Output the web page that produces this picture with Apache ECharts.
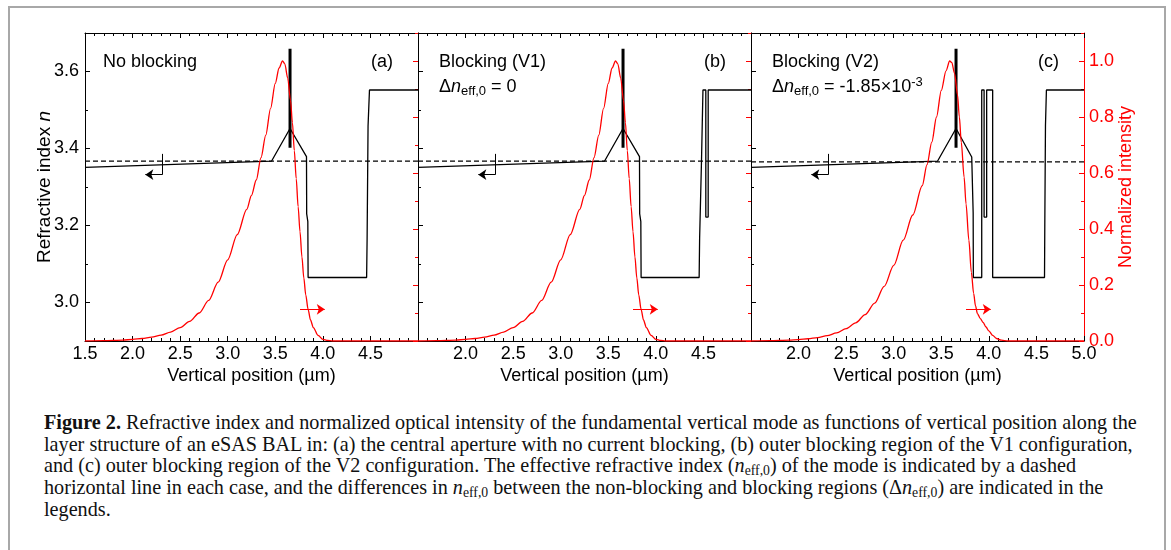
<!DOCTYPE html>
<html>
<head>
<meta charset="utf-8">
<title>Figure 2 – refractive index and mode intensity</title>
<script src="https://cdn.jsdelivr.net/npm/echarts@6/dist/echarts.min.js"></script>
<style>
  html, body { margin: 0; padding: 0; background: #fff; width: 1171px; height: 550px; overflow: hidden; }
  #frame { position: absolute; left: 8px; top: 6px; width: 1154px; height: 600px; border: 2px solid #a8a8a8; }
  #chart { position: absolute; left: 0; top: 0; width: 1171px; height: 400px; }
  #caption { position: absolute; left: 44px; top: 412px; font-family: 'Liberation Serif', 'Times New Roman', serif;
             font-size: 18px; line-height: 21.7px; color: #111; white-space: nowrap; }
  #caption .ln { display: block; }
  #caption .ln span.m { display: inline-block; }
  #caption sub { font-size: 0.68em; vertical-align: -3px; line-height: 0; }
</style>
</head>
<body>
<div id="frame"></div>
<div id="chart"></div>
<div id="caption">
  <div class="ln"><span class="m" id="firstLine"><b>Figure 2.</b> Refractive index and normalized optical intensity of the fundamental vertical mode as functions of vertical position along the</span></div>
  <div class="ln">layer structure of an eSAS BAL in: (a) the central aperture with no current blocking, (b) outer blocking region of the V1 configuration,</div>
  <div class="ln">and (c) outer blocking region of the V2 configuration. The effective refractive index (<i>n</i><sub>eff,0</sub>) of the mode is indicated by a dashed</div>
  <div class="ln">horizontal line in each case, and the differences in <i>n</i><sub>eff,0</sub> between the non-blocking and blocking regions (Δ<i>n</i><sub>eff,0</sub>) are indicated in the</div>
  <div class="ln">legends.</div>
</div>
<script>
// ---- axis ranges and tick labels ----
const xRange = [1.5, 5.0];          // vertical position (µm)
const xStep = 0.5;
const nRange = [2.9, 3.7];          // refractive index
const nTickValues = [3.0, 3.2, 3.4, 3.6];
const iRange = [0, 1.1];            // normalized intensity
const iTickValues = [0, 0.2, 0.4, 0.6, 0.8, 1.0];

// ---- panel texts ----
const panelTitles = ['No blocking', 'Blocking (V1)', 'Blocking (V2)'];
const panelTags = ['(a)', '(b)', '(c)'];

// ---- effective index of the fundamental mode ----
const nEffCentral = 3.367;
const deltaNeff = [null, 0, -1.85e-3];   // change relative to the non-blocking region

// ---- refractive index profiles [position µm, n] ----
const profileA = [
  [1.5, 3.351], [3.46, 3.367], [3.655, 3.452], [3.828, 3.379], [3.83, 3.23], [3.842, 3.21],
  [3.845, 3.065], [4.46, 3.065], [4.465, 3.163], [4.475, 3.458], [4.49, 3.552], [5.0, 3.552]
];
const profileB = [
  [1.5, 3.351], [3.46, 3.367], [3.655, 3.452], [3.828, 3.379], [3.83, 3.23], [3.842, 3.21],
  [3.845, 3.065], [4.455, 3.065], [4.46, 3.167], [4.48, 3.371], [4.495, 3.552], [4.525, 3.552],
  [4.525, 3.222], [4.55, 3.222], [4.55, 3.552], [5.0, 3.552]
];
const profileC = [
  [1.5, 3.351], [3.46, 3.367], [3.655, 3.452], [3.82, 3.378], [3.835, 3.233], [3.837, 3.065],
  [3.925, 3.065], [3.925, 3.552], [3.95, 3.552], [3.95, 3.222], [3.977, 3.222], [3.977, 3.552],
  [4.04, 3.552], [4.04, 3.065], [4.585, 3.065], [4.588, 3.2], [4.595, 3.46], [4.605, 3.552], [5.0, 3.552]
];
// quantum well drawn as a heavy bar [position, n]
const qwBar = [[3.655, 3.402], [3.655, 3.659]];

// ---- normalized optical intensity [position µm, I] ----
const intensityAB = [
  [1.5, 0], [1.7, 0.001], [1.9, 0.003], [2.0, 0.006], [2.1, 0.009], [2.2, 0.014], [2.3, 0.021],
  [2.4, 0.032], [2.5, 0.048], [2.6, 0.07], [2.7, 0.1], [2.8, 0.145], [2.9, 0.21], [3.0, 0.29],
  [3.1, 0.38], [3.2, 0.47], [3.25, 0.52], [3.3, 0.575], [3.35, 0.655], [3.4, 0.735], [3.45, 0.83],
  [3.5, 0.92], [3.54, 0.975], [3.576, 1.0], [3.6, 0.99], [3.63, 0.94], [3.66, 0.86], [3.68, 0.78],
  [3.7, 0.68], [3.72, 0.58], [3.74, 0.48], [3.76, 0.39], [3.78, 0.3], [3.8, 0.225], [3.82, 0.165],
  [3.845, 0.113], [3.87, 0.075], [3.9, 0.048], [3.95, 0.02], [4.0, 0.006], [4.05, 0.002], [4.1, 0], [5.0, 0]
];
const intensityC = [
  [1.5, 0], [1.7, 0.001], [1.9, 0.003], [2.0, 0.005], [2.1, 0.008], [2.2, 0.012], [2.3, 0.019],
  [2.4, 0.029], [2.5, 0.044], [2.6, 0.065], [2.7, 0.094], [2.8, 0.135], [2.9, 0.195], [3.0, 0.27],
  [3.1, 0.36], [3.2, 0.45], [3.3, 0.555], [3.35, 0.63], [3.4, 0.71], [3.45, 0.8], [3.5, 0.895],
  [3.55, 0.965], [3.588, 1.0], [3.61, 0.995], [3.64, 0.955], [3.67, 0.88], [3.69, 0.8], [3.71, 0.71],
  [3.74, 0.585], [3.76, 0.49], [3.79, 0.36], [3.816, 0.245], [3.84, 0.17], [3.86, 0.125], [3.88, 0.098],
  [3.91, 0.08], [3.94, 0.066], [3.97, 0.05], [4.0, 0.036], [4.04, 0.02], [4.08, 0.009], [4.13, 0.003],
  [4.2, 0], [5.0, 0]
];

// ---- axis-assignment arrows ----
const nArrow = [[2.313, 3.386], [2.313, 3.332], [2.134, 3.332]];   // points to the left axis
const iArrow = [[3.76, 0.113], [4.02, 0.113]];                       // points to the right axis

const profiles = [profileA, profileB, profileC];
const intensities = [intensityAB, intensityAB, intensityC];

// ---- layout ----
const FONT = "'Liberation Sans', Arial, Helvetica, sans-serif";
const RED = '#ff0000';
const gridTop = 33, gridH = 308, gridW = 333;
const gridLefts = [85, 418, 751];
const titleInsets = [18, 21, 21];

const fmt1 = v => (Math.round(v * 10) / 10).toFixed(1);

function deltaLabel(d) {
  if (d === 0) return '{d|Δ}{n|n}{s|eff,0}{d| = 0}';
  const exp = Math.floor(Math.log10(Math.abs(d)));
  const mant = (d / Math.pow(10, exp)).toFixed(2);
  return '{d|Δ}{n|n}{s|eff,0}{d| = ' + mant + '×10}{p|' + exp + '}';
}

const grids = [], xAxes = [], yAxes = [], series = [], graphics = [];

for (let i = 0; i < 3; i++) {
  const L = gridLefts[i];
  grids.push({ left: L, top: gridTop, width: gridW, height: gridH, containLabel: false });

  const xBase = {
    gridIndex: i, type: 'value', min: xRange[0], max: xRange[1], interval: xStep,
    splitLine: { show: false },
    axisLine: { show: true, onZero: false, lineStyle: { color: '#000', width: 1 } },
    axisTick: { show: true, inside: true, length: 5, lineStyle: { color: '#000', width: 1 } },
    minorTick: { show: true, splitNumber: 5, length: 3, lineStyle: { color: '#000', width: 1 } }
  };
  // bottom axis with labels
  xAxes.push(Object.assign({}, xBase, {
    position: 'bottom',
    axisLabel: {
      show: true, margin: 4, fontSize: 18, fontFamily: FONT, color: '#000', formatter: fmt1,
      showMinLabel: i === 0, showMaxLabel: i === 2
    },
    name: 'Vertical position (µm)', nameLocation: 'middle', nameGap: 26, nameMoveOverlap: false,
    nameTextStyle: { fontSize: 18, fontFamily: FONT, color: '#000' }
  }));
  // mirrored top axis
  xAxes.push(Object.assign({}, xBase, { position: 'top', axisLabel: { show: false } }));

  // left axis: minor ticks every 0.1
  yAxes.push({
    gridIndex: i, type: 'value', position: 'left', min: nRange[0], max: nRange[1], interval: 0.1,
    splitLine: { show: false },
    axisLine: { show: true, onZero: false, lineStyle: { color: '#000', width: 1 } },
    axisTick: { show: true, inside: true, length: 3, lineStyle: { color: '#000', width: 1 } },
    axisLabel: { show: false }
  });
  // left axis: major ticks and labels
  yAxes.push({
    gridIndex: i, type: 'value', position: 'left', min: nRange[0], max: nRange[1], interval: 0.1,
    splitLine: { show: false },
    axisLine: { show: false, onZero: false },
    axisTick: { show: true, inside: true, length: 5, customValues: nTickValues, lineStyle: { color: '#000', width: 1 } },
    axisLabel: { show: i === 0, customValues: nTickValues, margin: 6, fontSize: 18, fontFamily: FONT, color: '#000', formatter: fmt1 },
    name: i === 0 ? 'Refractive index {i|n}' : '', nameLocation: 'middle', nameGap: 31, nameRotate: 90, nameMoveOverlap: false,
    nameTextStyle: { fontSize: 19, fontFamily: FONT, color: '#000',
      rich: { i: { fontSize: 19, fontFamily: FONT, fontStyle: 'italic', color: '#000' } } }
  });
  // right axis: minor ticks every 0.1
  yAxes.push({
    gridIndex: i, type: 'value', position: 'right', min: iRange[0], max: iRange[1], interval: 0.1,
    splitLine: { show: false },
    axisLine: { show: true, onZero: false, lineStyle: { color: RED, width: 1 } },
    axisTick: { show: true, inside: true, length: 3, lineStyle: { color: RED, width: 1 } },
    axisLabel: { show: false }
  });
  // right axis: major ticks and labels
  yAxes.push({
    gridIndex: i, type: 'value', position: 'right', min: iRange[0], max: iRange[1], interval: 0.1,
    splitLine: { show: false },
    axisLine: { show: false, onZero: false },
    axisTick: { show: true, inside: true, length: 5, customValues: iTickValues, lineStyle: { color: RED, width: 1 } },
    axisLabel: { show: i === 2, customValues: iTickValues, margin: 5, fontSize: 18, fontFamily: FONT, color: RED, formatter: fmt1 },
    name: i === 2 ? 'Normalized intensity' : '', nameLocation: 'middle', nameGap: 33, nameRotate: 90, nameMoveOverlap: false,
    nameTextStyle: { fontSize: 18, fontFamily: FONT, color: RED }
  });

  const xi = 2 * i, yn = 4 * i, yi = 4 * i + 2;
  const nEff = i === 0 ? nEffCentral : nEffCentral + deltaNeff[i];

  // refractive index profile
  series.push({
    type: 'line', xAxisIndex: xi, yAxisIndex: yn, data: profiles[i],
    showSymbol: false, symbol: 'none', silent: true, z: 3,
    lineStyle: { color: '#000', width: 1.3 },
    markLine: {
      silent: true, animation: false, symbol: ['none', 'arrow'], symbolSize: 8,
      label: { show: false }, emphasis: { disabled: true },
      lineStyle: { type: 'solid', color: '#000', width: 1 },
      data: [
        [{ coord: nArrow[0], symbol: 'none' }, { coord: nArrow[1], symbol: 'none' }],
        [{ coord: nArrow[1], symbol: 'none' }, { coord: nArrow[2], symbol: 'arrow' }]
      ]
    }
  });
  // quantum well
  series.push({
    type: 'line', xAxisIndex: xi, yAxisIndex: yn, data: qwBar,
    showSymbol: false, symbol: 'none', silent: true, z: 3,
    lineStyle: { color: '#000', width: 3, cap: 'butt' }
  });
  // effective index (dashed)
  series.push({
    type: 'line', xAxisIndex: xi, yAxisIndex: yn, data: [[xRange[0], nEff], [xRange[1], nEff]],
    showSymbol: false, symbol: 'none', silent: true, z: 2,
    lineStyle: { color: '#000', width: 1.2, type: [5, 3] }
  });
  // normalized intensity
  series.push({
    type: 'line', xAxisIndex: xi, yAxisIndex: yi, data: intensities[i],
    showSymbol: false, symbol: 'none', silent: true, smooth: 0.3, smoothMonotone: 'x', z: 4,
    lineStyle: { color: RED, width: 1.3 },
    markLine: {
      silent: true, animation: false, symbol: ['none', 'arrow'], symbolSize: 8,
      label: { show: false }, emphasis: { disabled: true },
      lineStyle: { type: 'solid', color: RED, width: 1 },
      data: [[{ coord: iArrow[0], symbol: 'none' }, { coord: iArrow[1], symbol: 'arrow' }]]
    }
  });

  // panel title, delta label and tag
  graphics.push({
    type: 'text', x: L + titleInsets[i], y: 62, silent: true,
    style: { text: panelTitles[i], fontSize: 18, fontFamily: FONT, fill: '#000',
             align: 'left', verticalAlign: 'middle', textAlign: 'left', textVerticalAlign: 'middle' }
  });
  if (deltaNeff[i] !== null) {
    graphics.push({
      type: 'text', x: L + titleInsets[i], y: 87, silent: true,
      style: {
        text: deltaLabel(deltaNeff[i]), fill: '#000', fontFamily: FONT, fontSize: 18,
        align: 'left', verticalAlign: 'middle', textAlign: 'left', textVerticalAlign: 'middle',
        rich: {
          d: { fontSize: 18, fontFamily: FONT, fill: '#000', lineHeight: 22 },
          n: { fontSize: 18, fontFamily: FONT, fontStyle: 'italic', fill: '#000', lineHeight: 22 },
          s: { fontSize: 13, fontFamily: FONT, fill: '#000', lineHeight: 13, verticalAlign: 'bottom' },
          p: { fontSize: 13, fontFamily: FONT, fill: '#000', lineHeight: 13, verticalAlign: 'top' }
        }
      }
    });
  }
  graphics.push({
    type: 'text', x: L + 308, y: 62, silent: true,
    style: { text: panelTags[i], fontSize: 18, fontFamily: FONT, fill: '#000',
             align: 'right', verticalAlign: 'middle', textAlign: 'right', textVerticalAlign: 'middle' }
  });
}

const chart = echarts.init(document.getElementById('chart'), null, { renderer: 'canvas' });
chart.setOption({
  animation: false,
  backgroundColor: 'transparent',
  grid: grids,
  xAxis: xAxes,
  yAxis: yAxes,
  series: series,
  graphic: graphics
});

// caption: size the serif text so the first line spans the text block width
(function fitCaption() {
  const cap = document.getElementById('caption');
  const first = document.getElementById('firstLine');
  const target = 1093;
  const w = first.getBoundingClientRect().width;
  const size = 18 * target / w;
  cap.style.fontSize = size.toFixed(2) + 'px';
})();
</script>
</body>
</html>
